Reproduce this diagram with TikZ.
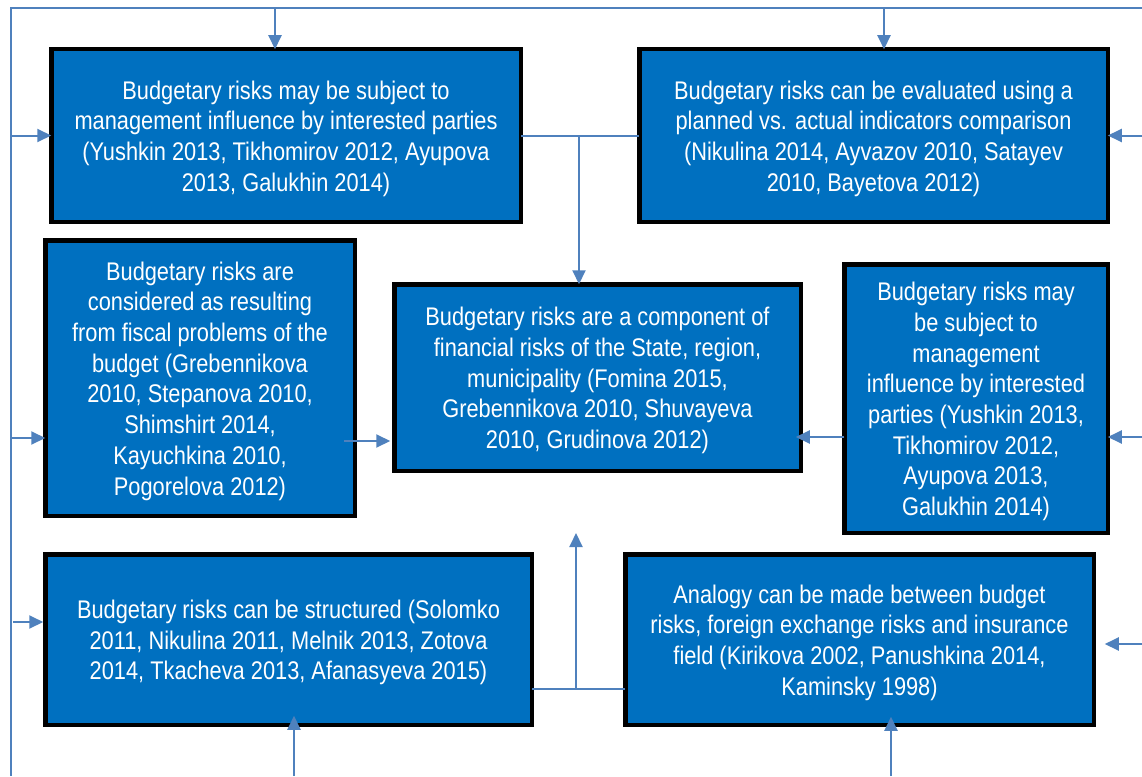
\documentclass[tikz,border=0pt]{standalone}
\usepackage{fontspec}
\setmainfont[FakeStretch=0.855]{Liberation Sans}
\usetikzlibrary{arrows.meta}
\definecolor{boxblue}{HTML}{0070C0}
\definecolor{linkblue}{HTML}{4F81BD}
\begin{document}
\begin{tikzpicture}[x=1pt,y=-1pt,
  rbox/.style={draw=black,line width=4.5pt,fill=boxblue,
    inner sep=0pt,outer sep=0pt},
  txt/.style={text=white,align=center,inner sep=0pt,yshift=-3pt,
    font=\fontsize{25.5}{30.7}\selectfont},
  link/.style={draw=linkblue,line width=2pt},
  arr/.style={link,-{Triangle[length=14pt,width=13pt]}}]
\useasboundingbox (0,0) rectangle (1142,776);
% boxes (minimum sizes are outer size minus border width)
\node[rbox,minimum width=469.5pt,minimum height=172.5pt,
 label={[txt]center:{Budgetary risks may be subject to\\management influence by interested parties\\(Yushkin 2013, Tikhomirov 2012, Ayupova\\2013, Galukhin 2014)}}] (b1) at (286,135.5) {};
\node[rbox,minimum width=468.5pt,minimum height=172.5pt,
 label={[txt]center:{Budgetary risks can be evaluated using a\\planned vs. actual indicators comparison\\(Nikulina 2014, Ayvazov 2010, Satayev\\2010, Bayetova 2012)}}] (b2) at (873.5,135.5) {};
\node[rbox,minimum width=309.5pt,minimum height=275.5pt,
 label={[txt]center:{Budgetary risks are\\considered as resulting\\from fiscal problems of the\\budget (Grebennikova\\2010, Stepanova 2010,\\Shimshirt 2014,\\Kayuchkina 2010,\\Pogorelova 2012)}}] (b3) at (200,378) {};
\node[rbox,minimum width=406.5pt,minimum height=186.5pt,
 label={[txt]center:{Budgetary risks are a component of\\financial risks of the State, region,\\municipality (Fomina 2015,\\Grebennikova 2010, Shuvayeva\\2010, Grudinova 2012)}}] (bc) at (597.5,377.5) {};
\node[rbox,minimum width=263.5pt,minimum height=268.5pt,
 label={[txt]center:{Budgetary risks may\\be subject to\\management\\influence by interested\\parties (Yushkin 2013,\\Tikhomirov 2012,\\Ayupova 2013,\\Galukhin 2014)}}] (br) at (976,398.5) {};
\node[rbox,minimum width=486.5pt,minimum height=170.5pt,
 label={[txt]center:{Budgetary risks can be structured (Solomko\\2011, Nikulina 2011, Melnik 2013, Zotova\\2014, Tkacheva 2013, Afanasyeva 2015)}}] (bbl) at (288.5,639.5) {};
\node[rbox,minimum width=468.5pt,minimum height=170.5pt,
 label={[txt]center:{Analogy can be made between budget\\risks, foreign exchange risks and insurance\\field (Kirikova 2002, Panushkina 2014,\\Kaminsky 1998)}}] (bbr) at (859.5,639.5) {};
% frame
\coordinate (tl) at (11,8);
\coordinate (tr) at (1142,8);
\coordinate (bl) at (11,776);
\draw[link] (tr) -- (tl) -- (bl);
% from top
\coordinate (t1) at (275,8);
\coordinate (t2) at (884,8);
\draw[arr] (t1) -- (t1 |- b1.north);
\draw[arr] (t2) -- (t2 |- b2.north);
% from left
\coordinate (l1) at (11,135.5);
\coordinate (l2) at (11,438);
\coordinate (l3) at (13,622);
\draw[arr] (l1) -- (b1.west);
\draw[arr] (l2) -- (b3.west |- l2);
\draw[arr] (l3) -- ([xshift=-2pt]bbl.west |- l3);
% from right
\coordinate (r1) at (1142,135.5);
\coordinate (r2) at (1142,437);
\coordinate (r3) at (1142,644);
\draw[arr] (r1) -- (b2.east);
\draw[arr] (r2) -- (br.east |- r2);
\draw[arr] (r3) -- ([xshift=11pt]bbr.east |- r3);
% from bottom
\coordinate (u1) at (294,776);
\coordinate (u2) at (891,776);
\draw[arr] (u1) -- ([yshift=9pt]u1 |- bbl.south);
\draw[arr] (u2) -- ([yshift=8pt]u2 |- bbr.south);
% top pair joins into centre box
\coordinate (j1) at (579,135.5);
\draw[link] (b1.east) -- (b2.west);
\draw[arr] (j1) -- (j1 |- bc.north);
% side boxes into centre box
\coordinate (a3) at (344,441);
\draw[arr] (a3) -- ([xshift=-4pt]bc.west |- a3);
\coordinate (a4) at (842,437);
\draw[arr] (br.west |- a4) -- ([xshift=-5pt]bc.east |- a4);
% bottom pair joins upward
\coordinate (j2) at (576,689);
\coordinate (up2) at (576,533);
\draw[link] (bbl.east |- j2) -- (bbr.west |- j2);
\draw[arr] (j2) -- (up2);
\end{tikzpicture}
\end{document}
